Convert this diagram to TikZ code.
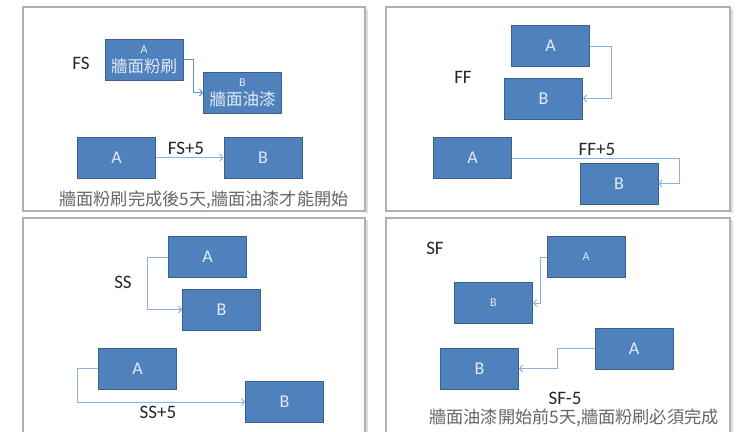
\documentclass[tikz,border=0pt]{standalone}
\usepackage{fontspec}
\setmainfont{Carlito}
\newfontfamily\cjk{Noto Sans CJK TC}
\usetikzlibrary{arrows.meta}
\definecolor{taskfill}{HTML}{4F81BD}
\definecolor{taskedge}{HTML}{3A5F8B}
\definecolor{tasktext}{HTML}{E3EBF6}
\definecolor{linkcol}{HTML}{8CB0DC}
\definecolor{linkdark}{HTML}{5F8FCB}
\definecolor{framecol}{HTML}{B0B0B0}
\definecolor{shadecol}{HTML}{DDDDDD}
\definecolor{notecol}{HTML}{666666}
\tikzset{
  task/.style={draw=taskedge, fill=taskfill, line width=0.9pt, text=tasktext,
    minimum width=78pt, minimum height=41pt, inner sep=0pt, align=center,
    font=\fontsize{18}{18}\selectfont},
  link/.style={draw=linkcol, line width=1pt, -{Straight Barb[length=3pt,width=7pt]}},
  tag/.style={font=\fontsize{19}{19}\selectfont, text=black!85, inner sep=0pt},
  note/.style={font=\cjk\fontsize{17.2}{18}\selectfont, text=notecol, inner sep=0pt},
  panel/.style={draw=framecol, line width=1.2pt},
  panelshade/.style={draw=shadecol, line width=1.2pt}
}
\begin{document}
\begin{tikzpicture}[x=1pt,y=-1pt]
\useasboundingbox (0,0) rectangle (738,431);
\clip (0,0) rectangle (738,431);
\fill[white] (0,0) rectangle (738,431);

% panel frames with a faint right-hand shadow
\foreach \xa/\ya/\xb/\yb in {23/7/365/211, 386/7/730/211, 23/218/365/440, 386/218/730/440}{
  \draw[panelshade] (\xb+2,\ya+2) -- (\xb+2,\yb+2);
  \draw[panel] (\xa,\ya) rectangle (\xb,\yb);
}

% ---- FS ----
\node[task] (a1) at (144,59.5) {{\fontsize{12}{13}\selectfont A}\\[1pt]{\cjk\fontsize{16.5}{17}\selectfont 牆面粉刷}};
\node[task] (b1) at (242.5,92.5) {{\fontsize{12}{13}\selectfont B}\\[1pt]{\cjk\fontsize{16.5}{17}\selectfont 牆面油漆}};
\node[tag] (fs) at (81,63) {FS};
\draw[link, draw=linkdark] (a1.east) -- ++(10,0) |- (b1.west);
\node[task] (a2) at (116.5,157.5) {A};
\node[task] (b2) at (263,157.5) {B};
\draw[link] (a2.east) -- (b2.west);
\node[tag] (fs5) at (186,148) {FS+5};
\node[note] (n1) at (204,200) {牆面粉刷完成後5天,牆面油漆才能開始};

% ---- FF ----
\node[task] (a3) at (550.5,46) {A};
\node[task] (b3) at (543.5,98.5) {B};
\node[tag] (ff) at (463,77) {FF};
\draw[link] (a3.east) -- ++(22,0) |- (b3.east);
\node[task] (a4) at (472.5,158) {A};
\node[task] (b4) at (619,183.5) {B};
\draw[link] (a4.east) -- ++(168,0) |- (b4.east);
\node[tag] (ff5) at (597,149) {FF+5};

% ---- SS ----
\node[task] (a5) at (207.5,257) {A};
\node[task] (b5) at (221.5,309.5) {B};
\node[tag] (ss) at (123,282) {SS};
\draw[link] (a5.west) -- ++(-21,0) |- (b5.west);
\node[task] (a6) at (137.5,368.5) {A};
\node[task] (b6) at (284.5,402) {B};
\draw[link] (a6.west) -- ++(-21,0) |- (b6.west);
\node[tag] (ss5) at (158,412) {SS+5};

% ---- SF ----
\node[tag] (sf) at (435,248) {SF};
\node[task] (a7) at (586,257) {{\fontsize{12}{13}\selectfont A}};
\node[task] (b7) at (493.5,303) {{\fontsize{12}{13}\selectfont B}};
\draw[link] (a7.west) -- ++(-6,0) |- (b7.east);
\node[task] (a8) at (634,348.5) {A};
\node[task] (b8) at (479.5,368.5) {B};
\draw[link] (a8.west) -- ++(-37,0) |- (b8.east);
\node[tag] (sf5) at (565,398) {SF-5};
\node[note] (n4) at (574,418) {牆面油漆開始前5天,牆面粉刷必須完成};
\end{tikzpicture}
\end{document}
